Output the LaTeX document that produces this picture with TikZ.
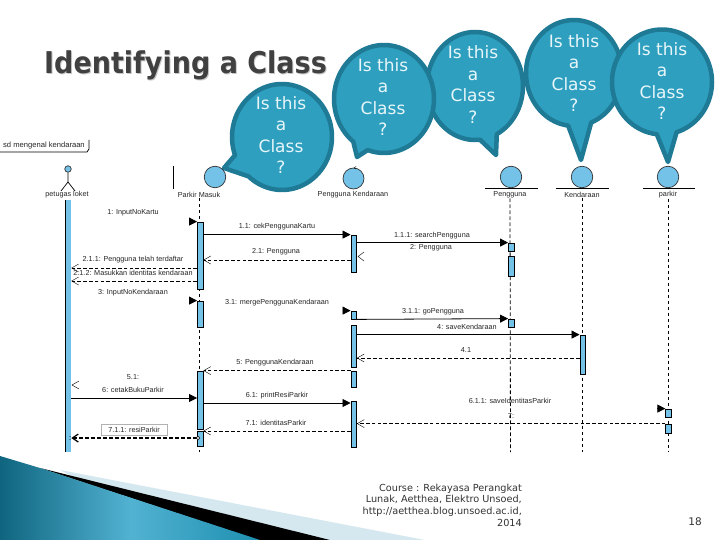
\documentclass[tikz,border=0pt]{standalone}
\usepackage{fontspec}
\setmainfont{Liberation Sans}
\newfontfamily\dvfont{DejaVu Sans}
\newfontfamily\titlefont[FakeStretch=.9]{DejaVu Sans}
\usetikzlibrary{arrows.meta}
\definecolor{ringc}{HTML}{1F7A96}
\definecolor{bubc}{HTML}{2E9FBF}
\definecolor{barc}{HTML}{74C2E8}
\definecolor{bubtext}{HTML}{E8F6FA}
\definecolor{ttl}{HTML}{404040}
\definecolor{foot}{HTML}{333333}
\definecolor{wedgel}{HTML}{D5E8EF}
\definecolor{wedged}{HTML}{0F657F}
\definecolor{wedgem}{HTML}{52B2D2}
\definecolor{wedger}{HTML}{1E8FB0}
\tikzset{
  bubble/.style={draw=ringc,fill=bubc,line width=4.5pt,line join=round},
  bubtxt/.style={text=bubtext,align=center,inner sep=0pt,font=\dvfont\fontsize{17}{21.5}\selectfont},
  actbar/.style={draw=black,fill=barc,line width=.8pt,inner sep=0pt,minimum width=5.5pt},
  lifeline/.style={draw=black,line width=.8pt,dash pattern=on 3.6pt off 2.4pt},
  syncmsg/.style={draw=black,line width=.8pt,-{Triangle[length=8pt,width=8pt]}},
  retmsg/.style={draw=black,line width=.7pt,dash pattern=on 3.6pt off 2.2pt,-{Straight Barb[length=7pt,width=8pt,line width=.4pt]}},
  selmsg/.style={draw=black,line width=1.5pt,dash pattern=on 4pt off 2pt,-{Straight Barb[length=6pt,width=8pt,line width=1.2pt]}},
  msgl/.style={inner sep=0pt,text=black!85,font=\fontsize{7.25}{8}\selectfont},
  headc/.style={circle,draw=black!80,fill=barc,line width=.7pt,inner sep=0pt},
  openhead/.style={draw=black,line width=.4pt},
  baseln/.style={draw=black,line width=.8pt},
}
\newcommand{\abar}[4]{\node[actbar,minimum height={(#4-#3)*1pt}] (#1) at (#2,{(#3+#4)/2}) {};}
\newcommand{\bub}[7]{\draw[bubble] plot[domain=#5:#6,samples=80,smooth] ({#1+#3*cos(\x)},{#2+#4*sin(\x)}) -- #7 -- cycle;}
\begin{document}
\begin{tikzpicture}[x=1pt,y=-1pt]
\useasboundingbox (0,0) rectangle (720,540);
% wedge
\fill[fill=white] (0,0) rectangle (720,540);
\fill[fill=wedgel] (60,470) -- (425,540) -- (200,540) -- cycle;
\fill[black] (40,468) -- (330,540) -- (258,540) -- cycle;
\shade[left color=wedged,right color=wedger,middle color=wedgem] (0,456) -- (40,468) -- (260,540) -- (0,540) -- cycle;
% title
\node[inner sep=0pt,text=black!22,font=\titlefont\bfseries\fontsize{30}{34}\selectfont] at (186.5,66) {Identifying a Class};
\node[inner sep=0pt,text=ttl,font=\titlefont\bfseries\fontsize{30}{34}\selectfont] (title) at (185.5,65) {Identifying a Class};
% frame
\node[msgl,anchor=west,font=\fontsize{7.6}{8}\selectfont] (frameL) at (3,146) {sd mengenal kendaraan};
\draw[baseln] (0,152) -- (87,152) -- (89,149) -- (89,140);
% bars coordinates
\node[msgl] (lPM) at (199,195) {Parkir Masuk};
\node[msgl] (lPK) at (353,195) {Pengguna Kendaraan};
\node[msgl] (lPG) at (510,195) {Pengguna};
\node[msgl] (lKD) at (582,195) {Kendaraan};
\node[msgl] (lPR) at (668,195) {parkir};
\node[msgl] (lPL) at (67,195) {petugas loket};
\coordinate (ePM) at (199,452);
\coordinate (ePG) at (510.5,452);
\coordinate (eKD) at (582,452);
\coordinate (ePR) at (668,452);
\draw[lifeline] (lPM.south) -- (ePM);
\draw[lifeline] (lPG.south) -- (ePG);
\draw[lifeline] (lKD.south) -- (eKD);
\draw[lifeline] (lPR.south) -- (ePR);
% activation bars
\node[fill=barc,inner sep=0pt,minimum width=5.5pt,minimum height=252pt] (ab) at (68.3,326) {};
\draw[black,line width=.8pt] (ab.north west) -- (ab.south west);
\abar{pm1}{200.2}{222}{289}
\abar{pm2}{200.2}{301}{327}
\abar{pm3}{200.2}{371}{429}
\abar{pm4}{200.2}{431}{446}
\abar{pk1}{353.7}{235}{272}
\abar{pk2}{353.7}{311}{319}
\abar{pk2b}{353.7}{325}{367}
\abar{pk3}{353.7}{371}{387}
\abar{pk4}{353.7}{401}{447}
\abar{pg1}{511.2}{243}{251}
\abar{pg2}{511.2}{256}{276}
\abar{pg3}{511.2}{319}{327}
\abar{kd1}{582.7}{335}{374}
\abar{pr1}{668.5}{409}{417}
\abar{pr2}{668.5}{424}{433}
% messages
\draw[syncmsg] ([xshift=-8pt]pm1.north west) -- (pm1.north west);
\draw[syncmsg] ([xshift=-8pt]pm2.north west) -- (pm2.north west);
\draw[syncmsg] ([xshift=-8pt]pk2.north west) -- (pk2.north west);
\draw[syncmsg] ([xshift=-8pt]pr1.north west) -- (pr1.north west);
\draw[syncmsg] (pm1.east |- pk1.north) -- (pk1.north west);
\draw[syncmsg] (pk1.east |- pg1.north) -- (pg1.north west);
\draw[syncmsg] (pk2.south east) -- (pg3.north west);
\draw[syncmsg] (pk2b.east |- kd1.north) -- (kd1.north west);
\draw[syncmsg] (ab.east |- 0,398) -- (pm3.west |- 0,398);
\draw[syncmsg] (pm3.east |- 0,403) -- (pk4.west |- 0,403);
\draw[retmsg] (pk1.west |- 0,260) -- (pm1.east |- 0,260);
\draw[retmsg] (pm1.west |- 0,268) -- (ab.east |- 0,268);
\draw[retmsg] (pm1.west |- 0,281) -- (ab.east |- 0,281);
\draw[retmsg] (kd1.west |- 0,358) -- (pk2b.east |- 0,358);
\draw[retmsg] (pk3.north west) -- (pm3.north east);
\draw[retmsg] (pk4.west |- 0,431) -- (pm3.east |- 0,431);
\draw[retmsg] (pr2.north west) -- (pk4.east |- pr2.north);
\draw[selmsg] (pm4.west |- 0,438) -- (ab.east |- 0,438);
\node[circle,draw=black,fill=white,line width=.5pt,inner sep=0pt,minimum size=3.5pt] (selc) at (198,438) {};
\fill[black] (70,436.5) circle (.5pt) (70,439.5) circle (.5pt);
% stray open heads
\draw[openhead] (364,252) -- (358,256.5) -- (364,261);
\draw[openhead] (79,381) -- (72,385) -- (79,389);
% labels
\node[msgl] (m1) at (133,213) {1: InputNoKartu};
\node[msgl] (m2) at (277,227) {1.1: cekPenggunaKartu};
\node[msgl] (m3) at (276,252) {2.1: Pengguna};
\node[msgl] (m4) at (432,236) {1.1.1: searchPengguna};
\node[msgl] (m5) at (431,248) {2: Pengguna};
\node[msgl] (m6) at (133,260) {2.1.1: Pengguna telah terdaftar};
\node[msgl] (m7) at (133,273) {2.1.2: Masukkan identitas kendaraan};
\node[msgl] (m8) at (133,293) {3: InputNoKendaraan};
\node[msgl] (m9) at (277,303) {3.1: mergePenggunaKendaraan};
\node[msgl] (m10) at (433,312) {3.1.1: goPengguna};
\node[msgl] (m11) at (467,327) {4: saveKendaraan};
\node[msgl] (m12) at (466,350) {4.1};
\node[msgl] (m13) at (275,363) {5: PenggunaKendaraan};
\node[msgl] (m14) at (133,377) {5.1:};
\node[msgl] (m15) at (133,390) {6: cetakBukuParkir};
\node[msgl] (m16) at (277,396) {6.1: printResiParkir};
\node[msgl] (m17) at (510,401) {6.1.1: saveIdentitasParkir};
\node[msgl] (m18) at (511,416) {7:};
\node[msgl] (m19) at (276,423) {7.1: identitasParkir};
\node[msgl,draw=black!30,line width=.5pt,minimum width=66pt,minimum height=11pt] (m20) at (134,429.5) {7.1.1: resiParkir};
% bubbles
\bub{475}{86}{48}{54}{84}{423}{(496,155)}
\bub{384}{99}{50}{54}{128}{469}{(357,157)}
\bub{282}{137}{50}{53}{160}{492}{(224,168)}
\bub{574}{73}{48}{53}{97}{429}{(581,160)}
\bub{662}{82}{50}{52.5}{96}{433}{(668,162)}
\node[bubtxt] (t3) at (473,84.5) {Is this\\a\\Class\\?};
\node[bubtxt] (t2) at (383,97) {Is this\\a\\Class\\?};
\node[bubtxt] (t1) at (281,135) {Is this\\a\\Class\\?};
\node[bubtxt] (t4) at (574,73) {Is this\\a\\Class\\?};
\node[bubtxt] (t5) at (662,81) {Is this\\a\\Class\\?};
% lifeline heads
\node[headc,minimum size=21.5pt] (hPM) at (215,177) {};
\draw[baseln] (173,166) -- (173,189);
\node[headc,minimum size=21pt] (hPK) at (353.5,178.5) {};
\draw[black,line width=.4pt] (354,168) -- (356,166.5) (354,168) -- (356,169);
\node[headc,minimum size=21.5pt] (hPG) at (511,177) {};
\node[headc,minimum size=21.5pt] (hKD) at (582,177) {};
\node[headc,minimum size=21.5pt] (hPR) at (668,177) {};
\draw[baseln] (485,188) -- (538,188);
\draw[baseln] (556,188) -- (609,188);
\draw[baseln] (643,188) -- (695,188);
% actor
\node[headc,minimum size=6.5pt] (hPL) at (68,169) {};
\coordinate (hip) at (68,182);
\draw[black,line width=.7pt] (hPL.south) -- (hip) -- (61,191);
\draw[black,line width=.7pt] (hip) -- (75,191);
% footer
\node[inner sep=0pt,anchor=north east,align=right,text=foot,font=\dvfont\fontsize{9.7}{11.9}\selectfont] (footer) at (522,483.5) {Course : Rekayasa Perangkat\\Lunak, Aetthea, Elektro Unsoed,\\http://aetthea.blog.unsoed.ac.id,\\2014};
\node[inner sep=0pt,text=foot,font=\dvfont\fontsize{10.5}{12}\selectfont] (pageno) at (695,522) {18};
\end{tikzpicture}
\end{document}
